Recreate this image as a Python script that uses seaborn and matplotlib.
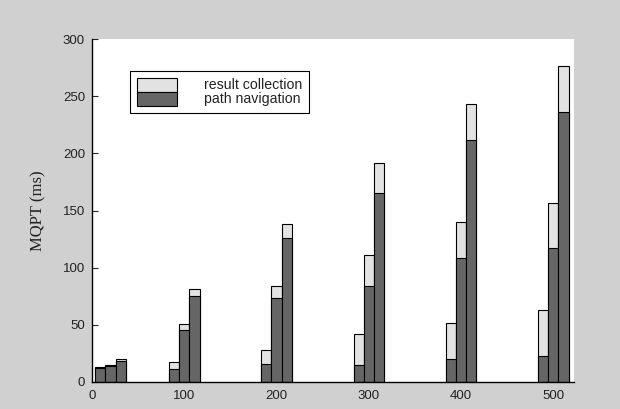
import pandas as pd
import matplotlib.pyplot as plt
import seaborn as sns
from matplotlib.patches import Patch, Rectangle
from matplotlib.legend_handler import HandlerPatch

# data
sizes = [20, 100, 200, 300, 400, 500]
queries = ['Q1', 'Q2', 'Q3']
nav_q1 = [12.0, 11.4, 15.2, 14.4, 19.9, 22.5]
nav_q2 = [13.8, 45.0, 73.1, 83.9, 108.1, 116.9]
nav_q3 = [18.1, 75.4, 125.6, 165.3, 211.8, 236.0]
total_q1 = [12.6, 17.0, 27.5, 42.1, 51.7, 62.6]
total_q2 = [14.4, 50.8, 83.6, 110.8, 139.9, 156.6]
total_q3 = [19.6, 81.0, 137.9, 191.6, 243.6, 276.4]

rows = []
for q, nav, tot in zip(queries, [nav_q1, nav_q2, nav_q3], [total_q1, total_q2, total_q3]):
    for s, n, t in zip(sizes, nav, tot):
        rows.append({'size': s, 'query': q, 'nav': n, 'total': t})
df = pd.DataFrame(rows)

light = '#e2e2e2'
dark = '#666666'
bg = '#d0d0d0'
txt = '#222222'

sns.set_style('ticks')
plt.rcParams['font.family'] = ['Liberation Sans', 'DejaVu Sans']

fig = plt.figure(figsize=(6.2, 4.09), dpi=100, facecolor=bg)
ax = fig.add_axes([0.1484, 0.0667, 0.9253 - 0.1484, 0.9039 - 0.0667])
ax.set_facecolor('white')

# result collection on top = total height, path navigation drawn over it
sns.barplot(data=df, x='size', y='total', hue='query', hue_order=queries,
            palette=[light] * 3, native_scale=True, width=0.4125, dodge=True,
            edgecolor='black', linewidth=0.8, errorbar=None, legend=False, ax=ax)
sns.barplot(data=df, x='size', y='nav', hue='query', hue_order=queries,
            palette=[dark] * 3, native_scale=True, width=0.4125, dodge=True,
            edgecolor='black', linewidth=0.8, errorbar=None, legend=False, ax=ax)

ax.set_xlim(0, 522)
ax.set_ylim(0, 300)
ax.set_xticks([0, 100, 200, 300, 400, 500])
ax.set_yticks([0, 50, 100, 150, 200, 250, 300])
ax.set_xlabel('')
ax.set_ylabel('MQPT (ms)', family=['Liberation Serif', 'DejaVu Serif'],
              fontsize=12, color=txt, labelpad=12)

sns.despine(ax=ax)
for sp in ['left', 'bottom']:
    ax.spines[sp].set_color('black')
    ax.spines[sp].set_linewidth(1.0)
ax.tick_params(axis='y', direction='in', length=4, width=0.8, labelsize=9.5,
               labelcolor=txt, pad=5)
ax.tick_params(axis='x', length=0, labelsize=9.5, labelcolor=txt, pad=6)


# legend patches stretched so the two rows join into one split box
def tall_patch(legend, orig_handle, xdescent, ydescent, width, height, fontsize):
    extra = 0.16 * fontsize
    return Rectangle((-xdescent, -ydescent - extra), width, height + extra)


handles = [Patch(facecolor=light, edgecolor='black', linewidth=0.8),
           Patch(facecolor=dark, edgecolor='black', linewidth=0.8)]
leg = ax.legend(handles, ['result collection', 'path navigation'],
                loc='upper left', bbox_to_anchor=(0.079, 0.907), borderaxespad=0,
                fontsize=10.2, labelspacing=0, handlelength=2.8, handleheight=0.9,
                handletextpad=1.9, borderpad=0.5, fancybox=False, framealpha=1,
                edgecolor='black',
                handler_map={Patch: HandlerPatch(patch_func=tall_patch)})
leg.get_frame().set_linewidth(0.8)
for t in leg.get_texts():
    t.set_color(txt)

fig.savefig('out.png', dpi=100, facecolor=bg)
